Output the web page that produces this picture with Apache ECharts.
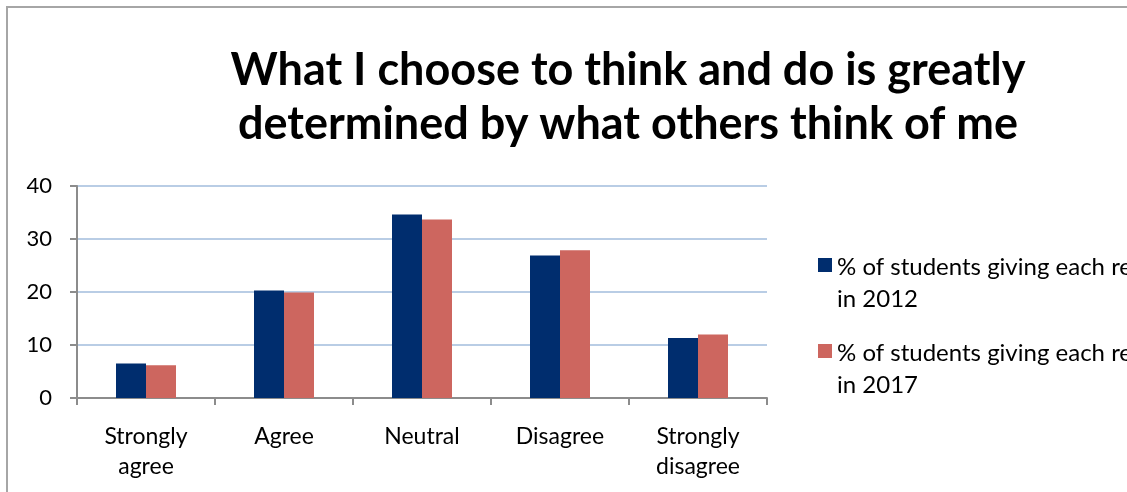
<!DOCTYPE html>
<html>
<head>
<meta charset="utf-8">
<script src="https://cdn.jsdelivr.net/npm/echarts@6/dist/echarts.min.js"></script>
<style>
  html, body { margin: 0; padding: 0; background: #fff; }
  #chart { width: 1127px; height: 492px; }
</style>
</head>
<body>
<div id="chart"></div>
<script>
// Survey responses, share of students (%)
const categories = ['Strongly\nagree', 'Agree', 'Neutral', 'Disagree', 'Strongly\ndisagree'];
const seriesNames = [
  '% of students giving each response in 2012',
  '% of students giving each response in 2017'
];
const values2012 = [6.5, 20.3, 34.6, 26.9, 11.3];
const values2017 = [6.2, 19.9, 33.7, 27.9, 12.0];
const yTicks = { min: 0, max: 40, interval: 10 };

const FONT = 'Lato';
const chart = echarts.init(document.getElementById('chart'), null, { renderer: 'canvas' });

// Legend swatch: a 14px square at the top of a 50px-tall box, so the
// swatch lines up with the first line of the two-line legend label.
const LEGEND_ICON = 'path://M0,0L14,0L14,14L0,14Z M0,50L14,50';

chart.setOption({
  backgroundColor: '#ffffff',
  animation: false,
  textStyle: { fontFamily: FONT, color: '#000' },
  title: {
    text: 'What I choose to think and do is greatly\ndetermined by what others think of me',
    left: 623,
    top: 38,
    textAlign: 'center',
    textStyle: {
      fontFamily: FONT,
      fontSize: 45,
      fontWeight: 'bold',
      color: '#000',
      lineHeight: 54
    }
  },
  // outer frame of the chart area
  graphic: [{
    type: 'rect',
    shape: { x: 7, y: 7, width: 1300, height: 700 },
    style: { fill: 'none', stroke: '#a6a6a6', lineWidth: 2 },
    silent: true
  }],
  legend: {
    orient: 'vertical',
    left: 813,
    top: 246,
    itemWidth: 14,
    itemHeight: 50,
    itemGap: 22,
    icon: LEGEND_ICON,
    formatter: name => name.replace(' in ', '\nin '),
    textStyle: {
      fontFamily: FONT,
      fontSize: 24,
      color: '#000',
      lineHeight: 32
    }
  },
  grid: { left: 77, right: 360, top: 186, bottom: 94 },
  xAxis: {
    type: 'category',
    data: categories,
    axisLine: { lineStyle: { color: '#8c8c8c', width: 2 } },
    axisTick: { show: true, alignWithLabel: false, length: 7, lineStyle: { color: '#8c8c8c', width: 2 } },
    axisLabel: { fontFamily: FONT, fontSize: 23, color: '#000', lineHeight: 30, margin: 24 },
    splitLine: { show: false }
  },
  yAxis: {
    type: 'value',
    min: yTicks.min,
    max: yTicks.max,
    interval: yTicks.interval,
    axisLine: { show: true, lineStyle: { color: '#8c8c8c', width: 2 } },
    axisTick: { show: true, length: 7, lineStyle: { color: '#8c8c8c', width: 2 } },
    axisLabel: { fontFamily: FONT, fontSize: 22, color: '#000', margin: 25 },
    splitLine: { lineStyle: { color: '#b9cde5', width: 2 } }
  },
  series: [
    {
      name: seriesNames[0],
      type: 'bar',
      data: values2012,
      barWidth: 30,
      barGap: '0%',
      itemStyle: { color: '#002d6e' }
    },
    {
      name: seriesNames[1],
      type: 'bar',
      data: values2017,
      barWidth: 30,
      itemStyle: { color: '#cd665f' }
    }
  ]
});
</script>
</body>
</html>
